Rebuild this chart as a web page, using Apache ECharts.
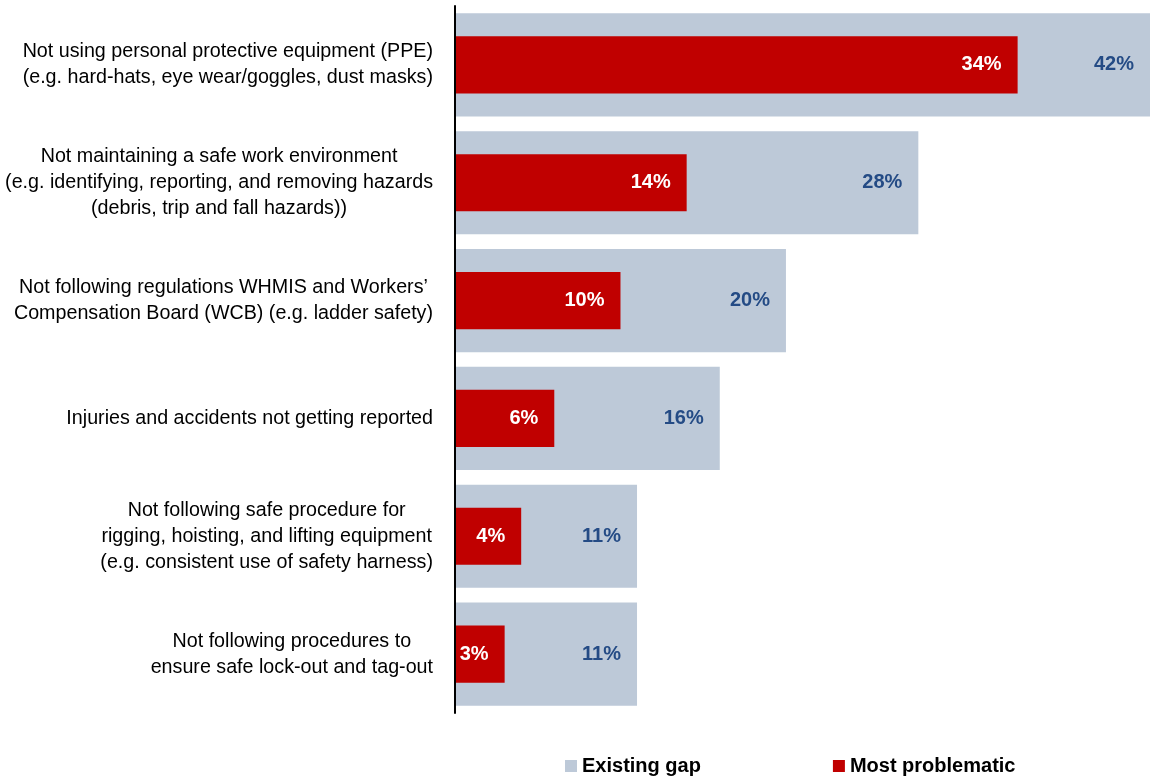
<!DOCTYPE html>
<html>
<head>
<meta charset="utf-8">
<title>Safety issues</title>
<script src="https://cdn.jsdelivr.net/npm/echarts@6/dist/echarts.min.js"></script>
<style>
  html, body { margin: 0; padding: 0; background: #fff; }
  #chart { width: 1150px; height: 780px; }
</style>
</head>
<body>
<div id="chart"></div>
<script>
// Safety issues: share reporting an existing gap vs. share naming it the most problematic
const categories = [
  'Not using personal protective equipment (PPE)\n(e.g. hard-hats, eye wear/goggles, dust masks)',
  'Not maintaining a safe work environment\n(e.g. identifying, reporting, and removing hazards\n(debris, trip and fall hazards))',
  'Not following regulations WHMIS and Workers\u2019\nCompensation Board (WCB) (e.g. ladder safety)',
  'Injuries and accidents not getting reported',
  'Not following safe procedure for\nrigging, hoisting, and lifting equipment\n(e.g. consistent use of safety harness)',
  'Not following procedures to\nensure safe lock-out and tag-out'
];
const existingGap = [42, 28, 20, 16, 11, 11];
const mostProblematic = [34, 14, 10, 6, 4, 3];

const FONT = '"Liberation Sans", Arial, sans-serif';
const GREY = '#BDC9D8';
const RED = '#C00000';
const BLUE = '#244B85';

const chart = echarts.init(document.getElementById('chart'));

const catAxisBase = {
  type: 'category',
  data: categories,
  inverse: true,
  axisTick: { show: false }
};

const valueLabel = function (color) {
  return {
    show: true,
    position: 'insideRight',
    distance: 16,
    formatter: '{c}%',
    color: color,
    fontFamily: FONT,
    fontSize: 20,
    fontWeight: 'bold'
  };
};

chart.setOption({
  animation: false,
  textStyle: { fontFamily: FONT },
  grid: { left: 455, right: 0, top: 6, bottom: 67, containLabel: false, outerBoundsMode: 'none' },
  legend: {
    left: 560,
    top: 751,
    itemWidth: 12,
    itemHeight: 12,
    itemGap: 132,
    icon: 'rect',
    textStyle: { fontFamily: FONT, fontSize: 20, fontWeight: 'bold', color: '#000' },
    data: ['Existing gap', 'Most problematic']
  },
  xAxis: {
    type: 'value',
    min: 0,
    max: 42,
    show: false
  },
  yAxis: [
    Object.assign({}, catAxisBase, {
      z: 5,
      axisLine: { show: true, lineStyle: { color: '#000', width: 2 } },
      axisLabel: {
        align: 'right',
        margin: 22,
        formatter: function (v) {
          return v.split('\n').map(function (l) { return '{c|' + l + '}'; }).join('\n');
        },
        rich: {
          c: { align: 'center', fontFamily: FONT, fontSize: 19.7, lineHeight: 26, color: '#000' }
        }
      }
    }),
    Object.assign({}, catAxisBase, {
      show: false
    })
  ],
  series: [
    {
      name: 'Existing gap',
      type: 'bar',
      yAxisIndex: 0,
      data: existingGap,
      barWidth: '87.5%',
      itemStyle: { color: GREY },
      label: valueLabel(BLUE),
      z: 1
    },
    {
      name: 'Most problematic',
      type: 'bar',
      yAxisIndex: 1,
      data: mostProblematic,
      barWidth: '48.5%',
      itemStyle: { color: RED },
      label: valueLabel('#fff'),
      z: 2
    }
  ]
});
</script>
</body>
</html>
